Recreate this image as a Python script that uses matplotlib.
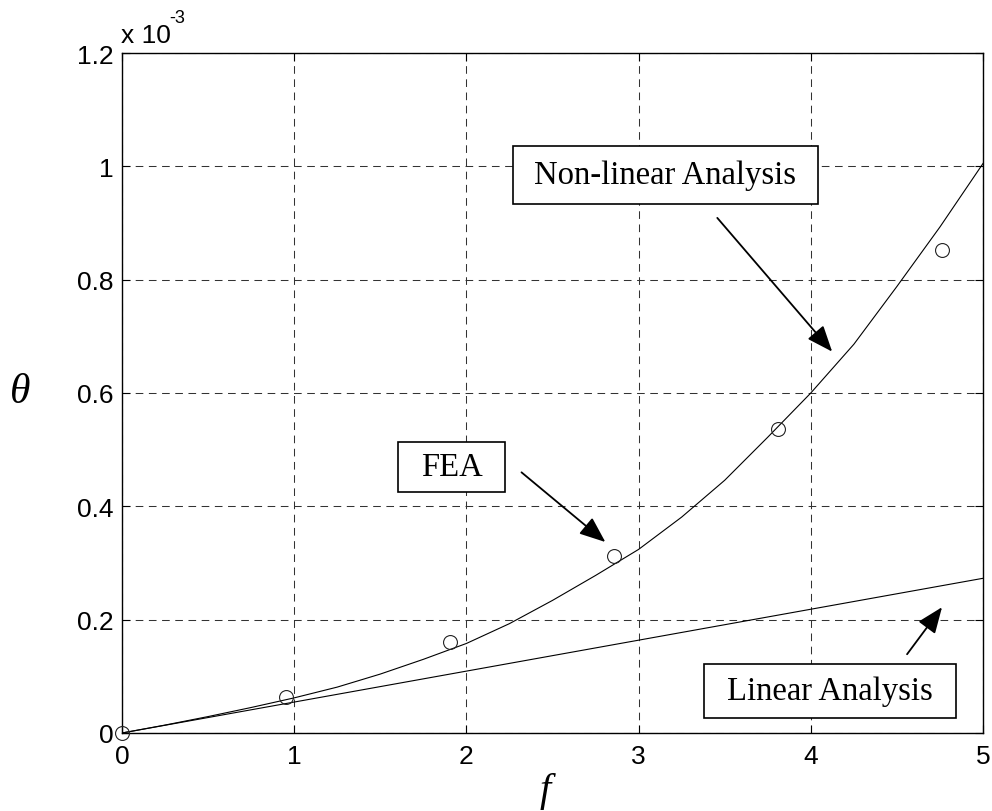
import matplotlib
matplotlib.use("Agg")
import matplotlib.pyplot as plt
from matplotlib.patches import Rectangle

plt.rcParams['lines.scale_dashes'] = False

# ---- data (theta in units of 1e-3) ----
f_nonlin = [0, 0.25, 0.5, 0.75, 1.0, 1.25, 1.5, 1.75, 2.0, 2.25, 2.5, 2.75,
            3.0, 3.25, 3.5, 3.75, 4.0, 4.25, 4.5, 4.75, 5.0]
theta_nonlin = [0, 0.014, 0.029, 0.045, 0.062, 0.081, 0.104, 0.130, 0.158,
                0.193, 0.234, 0.278, 0.324, 0.381, 0.446, 0.522, 0.600,
                0.686, 0.788, 0.893, 1.005]
f_lin = [0, 5.0]
theta_lin = [0, 0.273]
f_fea = [0, 0.952, 1.904, 2.856, 3.808, 4.76]
theta_fea = [0, 0.063, 0.160, 0.312, 0.536, 0.852]

xticks = [0, 1, 2, 3, 4, 5]
xticklabels = ['0', '1', '2', '3', '4', '5']
yticks = [0, 0.2, 0.4, 0.6, 0.8, 1.0, 1.2]
yticklabels = ['0', '0.2', '0.4', '0.6', '0.8', '1', '1.2']

fig = plt.figure(figsize=(9.92, 8.12), dpi=100)
W, H = 992, 812
L, R, T, B = 122, 983, 54, 734
ax = fig.add_axes([L / W, 1 - B / H, (R - L) / W, (B - T) / H])

ax.plot(f_nonlin, theta_nonlin, color='k', lw=0.8, zorder=3)
ax.plot(f_lin, theta_lin, color='k', lw=0.8, zorder=3)
ax.plot(f_fea, theta_fea, linestyle='none', marker='o', markersize=10,
        markerfacecolor='none', markeredgecolor='#222222', markeredgewidth=0.8,
        zorder=4, clip_on=False)

ax.set_xlim(0, 5)
ax.set_ylim(0, 1.2)
ax.set_xticks(xticks)
ax.set_xticklabels(xticklabels)
ax.set_yticks(yticks)
ax.set_yticklabels(yticklabels)
ax.tick_params(direction='in', length=6, width=0.8, top=True, right=True,
               labelsize=19, pad=6)
ax.tick_params(axis='x', pad=8)
for lab in ax.get_xticklabels() + ax.get_yticklabels():
    lab.set_family('Liberation Sans')
for sp in ax.spines.values():
    sp.set_linewidth(1.0)

ax.grid(True, color='#333333', lw=0.75, linestyle=(0, (5.5, 4.0)))
ax.set_axisbelow(True)

# offset text
fig.text(121 / W, 1 - 43 / H, 'x 10', fontsize=19, family='Liberation Sans',
         ha='left', va='baseline')
fig.text(169 / W, 1 - 23 / H, '-3', fontsize=13, family='Liberation Sans',
         ha='left', va='baseline')

# axis labels
fig.text(20 / W, 1 - 393 / H, 'θ', fontsize=30, family='Liberation Serif',
         style='italic', ha='center', va='center')
fig.text(545 / W, 1 - 792 / H, 'f', fontsize=29, family='Liberation Serif',
         style='italic', ha='center', va='center')

# annotation boxes (data coords)
boxes = [
    ('Non-linear Analysis', 2.268, 0.934, 4.043, 1.036),
    ('FEA', 1.601, 0.425, 2.227, 0.513),
    ('Linear Analysis', 3.382, 0.0264, 4.843, 0.1216),
]
for txt, x0, y0, x1, y1 in boxes:
    ax.add_patch(Rectangle((x0, y0), x1 - x0, y1 - y0, facecolor='white',
                           edgecolor='k', lw=1.2, zorder=5, clip_on=False))
    ax.text((x0 + x1) / 2, (y0 + y1) / 2, txt, fontsize=23.5,
            family='Liberation Serif', ha='center', va='center', zorder=6)

arrows = [
    ((3.457, 0.909), (4.124, 0.673)),
    ((2.320, 0.460), (2.807, 0.337)),
    ((4.559, 0.139), (4.762, 0.222)),
]
for start, tip in arrows:
    ax.annotate('', xy=tip, xytext=start,
                arrowprops=dict(arrowstyle='-|>,head_length=0.8,head_width=0.32',
                                mutation_scale=20, lw=1.3, color='k',
                                shrinkA=0, shrinkB=0), zorder=6)

fig.savefig('out.png', dpi=100)
